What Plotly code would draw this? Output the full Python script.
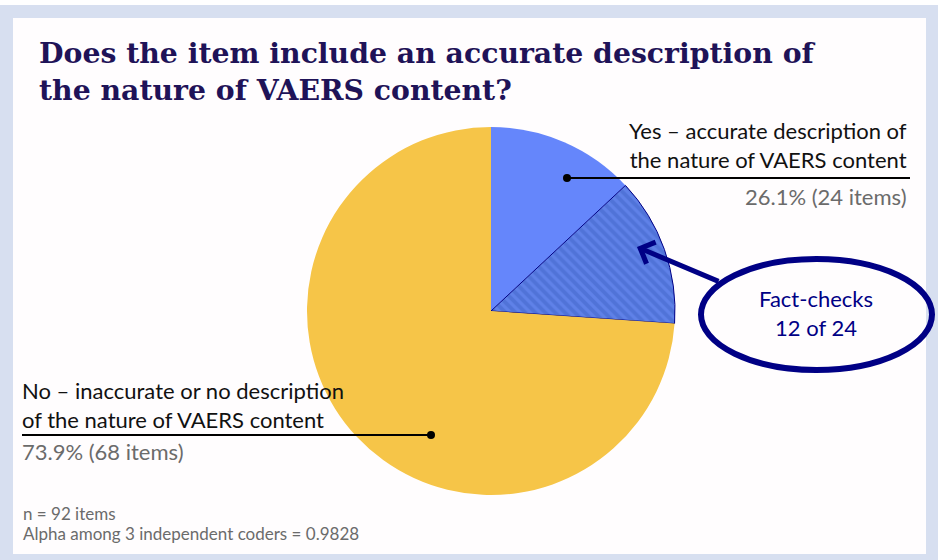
import plotly.graph_objects as go

W, H = 938, 560

# ---- data ----
slice_labels = ["Yes – other items", "Yes – fact-checks", "No"]
slice_values = [12, 12, 68]
slice_colors = ["#6586fb", "#5073d8", "#f6c548"]

title_lines = ["Does the item include an accurate description of",
               "the nature of VAERS content?"]
yes_label = ["Yes – accurate description of", "the nature of VAERS content"]
yes_value = "26.1% (24 items)"
no_label = ["No – inaccurate or no description", "of the nature of VAERS content"]
no_value = "73.9% (68 items)"
callout = ["Fact-checks", "12 of 24"]
notes = ["n = 92 items", "Alpha among 3 independent coders = 0.9828"]


def px(x):
    return x / W


def py(y):
    return 1 - y / H


NAVY_T = "#1f1358"
NAVY = "#000085"
TXT = "#111111"
GRAY = "#6b6b6b"
FONT = "Lato, 'Open Sans', sans-serif"
SERIF = "'DejaVu Serif', 'Liberation Serif', serif"

cx, cy, r = 491, 311, 184

fig = go.Figure(go.Pie(
    labels=slice_labels,
    values=slice_values,
    sort=False,
    direction="clockwise",
    textinfo="none",
    hoverinfo="label+value",
    showlegend=False,
    marker=dict(
        colors=slice_colors,
        line=dict(color=["rgba(0,0,0,0)", NAVY, "rgba(0,0,0,0)"], width=[0, 1, 0]),
        pattern=dict(shape=["", "\\", ""], fgcolor="#6e8ff7", bgcolor=slice_colors,
                     size=7, solidity=0.45, fillmode="overlay"),
    ),
    domain=dict(x=[px(cx - r), px(cx + r)], y=[py(cy + r), py(cy - r)]),
))

shapes = [
    dict(type="rect", xref="paper", yref="paper", x0=0, x1=1, y0=0, y1=py(5),
         fillcolor="#d7dff0", line=dict(width=0), layer="below"),
    dict(type="rect", xref="paper", yref="paper", x0=px(13), x1=px(926), y0=py(554), y1=py(18),
         fillcolor="#fffdfe", line=dict(width=0), layer="below"),
    # leader lines
    dict(type="line", xref="paper", yref="paper", x0=px(567), x1=px(910), y0=py(178), y1=py(178),
         line=dict(color="#000000", width=2)),
    dict(type="line", xref="paper", yref="paper", x0=px(22), x1=px(431), y0=py(435), y1=py(435),
         line=dict(color="#000000", width=2)),
    dict(type="circle", xref="paper", yref="paper", x0=px(563), x1=px(571), y0=py(182), y1=py(174),
         fillcolor="#000000", line=dict(width=0)),
    dict(type="circle", xref="paper", yref="paper", x0=px(427), x1=px(435), y0=py(439), y1=py(431),
         fillcolor="#000000", line=dict(width=0)),
    # callout ellipse
    dict(type="circle", xref="paper", yref="paper", x0=px(701), x1=px(932), y0=py(370), y1=py(259),
         line=dict(color=NAVY, width=6), fillcolor="rgba(0,0,0,0)"),
]

ann = []


def text(x, y, s, size, color, anchor="left", family=FONT, bold=False, align=None):
    ann.append(dict(xref="paper", yref="paper", x=px(x), y=py(y), text=("<b>%s</b>" % s) if bold else s,
                    showarrow=False, xanchor=anchor, yanchor="middle", align=align or anchor,
                    font=dict(family=family, size=size, color=color)))


text(37, 53, title_lines[0], 28.3, NAVY_T, family=SERIF, bold=True)
text(37, 90, title_lines[1], 28.3, NAVY_T, family=SERIF, bold=True)
text(909, 145, "<br>".join(yes_label), 22, TXT, anchor="right")
text(909, 196, yes_value, 22, GRAY, anchor="right")
text(20, 405, "<br>".join(no_label), 22, TXT)
text(20, 451, no_value, 22, GRAY)
text(816, 313, "<br>".join(callout), 22, NAVY, anchor="center")
text(21, 513, notes[0], 17, GRAY)
text(21, 533, notes[1], 17, GRAY)

# arrow from ellipse to hatched slice
ann.append(dict(xref="paper", yref="paper", axref="pixel", ayref="pixel",
                x=px(637), y=py(247), ax=83, ay=35, text="", showarrow=True,
                arrowhead=4, arrowsize=0.9, arrowwidth=5, arrowcolor=NAVY))

fig.update_layout(
    width=W, height=H,
    margin=dict(l=0, r=0, t=0, b=0),
    paper_bgcolor="#ffffff",
    plot_bgcolor="#ffffff",
    shapes=shapes,
    annotations=ann,
)

fig.write_html("out.html", config={"displayModeBar": False},
               post_script="document.body.style.margin='0';")
